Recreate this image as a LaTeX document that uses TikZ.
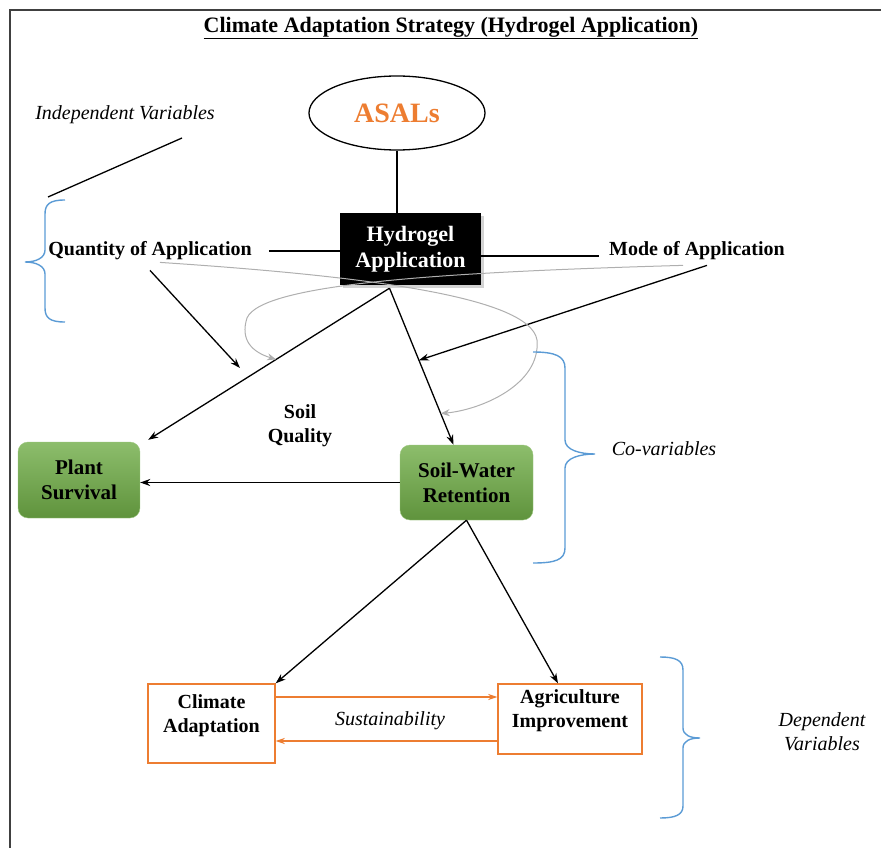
\documentclass[tikz,border=0pt]{standalone}
\usepackage{fontspec}
\setmainfont{Liberation Serif}
\usetikzlibrary{arrows.meta,shapes.geometric,shadows}
\definecolor{HGOrange}{RGB}{237,125,49}
\definecolor{HGBlue}{RGB}{91,155,213}
\definecolor{HGGreen}{RGB}{112,173,71}
\definecolor{HGGray}{RGB}{175,175,175}

\begin{document}
\begin{tikzpicture}[x=1pt,y=-1pt,
    lbl/.style={font=\fontsize{20}{24}\selectfont\bfseries,inner sep=2pt,align=center},
    ilbl/.style={font=\fontsize{20}{24}\selectfont\itshape,inner sep=2pt,align=center},
    gbox/.style={lbl,font=\fontsize{21}{25}\selectfont\bfseries,rounded corners=10pt,
                 top color=HGGreen!80!white,bottom color=HGGreen!85!black,draw=HGGreen!70!white},
    obox/.style={draw=HGOrange,line width=1.4pt,fill=white},
    ln/.style={line width=1.3pt},
    arr/.style={-{Stealth[length=10pt,width=7pt]},line width=1.3pt},
    oarr/.style={-{Stealth[length=9pt,width=6pt]},HGOrange,line width=1.6pt},
    garr/.style={-{Stealth[length=9pt,width=7pt]},HGGray,line width=1pt},
    brace/.style={HGBlue,line width=1.4pt}
  ]
  \useasboundingbox (0,0) rectangle (881,848);
  % frame
  \draw[line width=2pt,black!75] (10,848) -- (10,10) -- (881,10);
  \node[lbl,font=\fontsize{22}{26}\selectfont\bfseries] (T) at (451,28)
       {\underline{Climate Adaptation Strategy (Hydrogel Application)}};

  % top part
  \node[draw,ellipse,line width=1.3pt,minimum width=176pt,minimum height=74pt,
        font=\fontsize{28}{32}\selectfont\bfseries,text=HGOrange] (A) at (397,113) {ASALs};
  \node[lbl,fill=black,text=white,minimum width=141pt,minimum height=72pt,
        font=\fontsize{22}{26}\selectfont\bfseries,
        drop shadow={opacity=0.35,shadow xshift=3pt,shadow yshift=-3pt}] (H) at (410.5,249) {Hydrogel\\Application};
  \node[lbl] (Q) at (150,251) {Quantity of Application};
  \node[lbl] (M) at (697,251) {Mode of Application};
  \node[ilbl] (IV) at (125,115) {Independent Variables};

  % middle part
  \node[gbox,minimum width=122pt,minimum height=76pt] (P) at (79,480) {Plant\\Survival};
  \node[gbox,minimum width=133pt,minimum height=75pt] (S) at (466.5,482.5) {Soil-Water\\Retention};
  \node[lbl] (SQ) at (300,426) {Soil\\Quality};
  \node[ilbl] (CV) at (664,449) {Co-variables};

  % bottom part
  \node[obox,minimum width=127pt,minimum height=79pt] (C) at (211.5,723.5) {};
  \node[lbl] (Ct) at ([yshift=8pt]C.center) {Climate\\Adaptation};
  \node[obox,minimum width=144pt,minimum height=70pt] (G) at (570,719) {};
  \node[lbl] (Gt) at ([yshift=8pt]G.center) {Agriculture\\Improvement};
  \node[ilbl] (Sus) at (390,721) {Sustainability};
  \node[ilbl] (DV) at (822,732) {Dependent\\Variables};

  % connectors
  \draw[ln] (A.south) -- (A.south |- H.north);
  \draw[ln] ([xshift=15pt]Q.east) -- (Q.east -| H.west);
  \draw[ln] ([yshift=-7pt]H.east) -- ([yshift=-7pt,xshift=-8pt]H.east -| M.west);
  \coordinate (iv1) at (182,138);
  \coordinate (iv2) at (48,197);
  \draw[ln] (iv1) -- (iv2);

  \coordinate (h0) at ([xshift=-21pt,yshift=-3pt]H.south);
  \draw[arr] (h0) -- coordinate[pos=0.47] (hp) ([xshift=8pt,yshift=2pt]P.north east);
  \draw[arr] (h0) -- coordinate[pos=0.46] (hs1) coordinate[pos=0.80] (hs2) ([xshift=-13pt]S.north);
  \draw[arr] ([xshift=10pt,yshift=-3pt]M.south) -- (hs1);
  \coordinate (q1) at (240,368);
  \draw[arr] ([yshift=-8pt]Q.south) -- (q1);
  \draw[garr] ([xshift=10pt]Q.south) .. controls (350,275) and (530,295) .. (537,340)
              .. controls (541,385) and (480,410) .. (hs2);
  \draw[garr] ([xshift=-14pt,yshift=-3pt]M.south) .. controls (450,272) and (262,283) .. (247,318)
              .. controls (240,340) and (252,352) .. (hp);

  \draw[arr] (S.west) -- (S.west -| P.east);
  \draw[arr] (S.south) -- (C.north east);
  \draw[arr] (S.south) -- ([xshift=-12pt]G.north);
  \draw[oarr] ([yshift=26.5pt]C.east) -- ([yshift=26.5pt]C.east -| G.west);
  \draw[oarr] ([yshift=-22pt]G.west) -- ([yshift=-22pt]G.west -| C.east);

  % braces
  \draw[brace] (65,200) .. controls (50,200) and (45,204) .. (45,214) -- (45,250)
     .. controls (45,258) and (36,262) .. (25,262) .. controls (36,262) and (45,266) .. (45,274)
     -- (45,308) .. controls (45,318) and (50,322) .. (65,322);
  \draw[brace] (533,352) .. controls (555,352) and (565,356) .. (565,368) -- (565,440)
     .. controls (565,450) and (580,454) .. (595,454) .. controls (580,454) and (565,458) .. (565,468)
     -- (565,548) .. controls (565,560) and (555,563) .. (533,563);
  \draw[brace] (660,657) .. controls (675,657) and (683,660) .. (683,670) -- (683,728)
     .. controls (683,735) and (690,738) .. (700,738) .. controls (690,738) and (683,741) .. (683,748)
     -- (683,806) .. controls (683,815) and (675,818) .. (660,818);
\end{tikzpicture}
\end{document}
